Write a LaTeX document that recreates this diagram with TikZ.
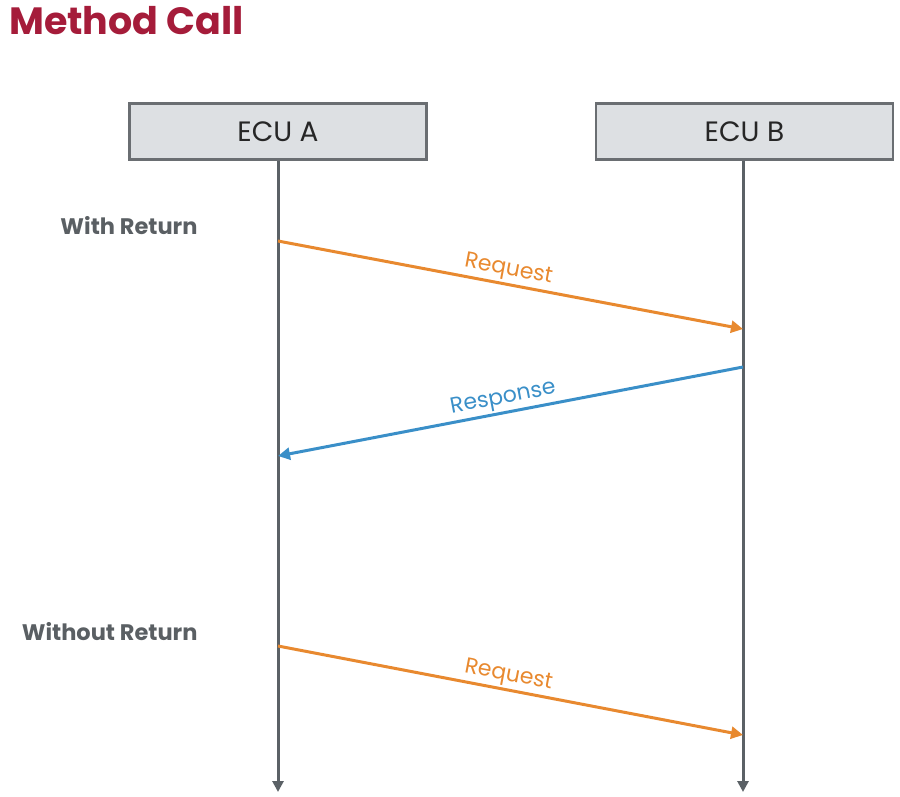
\documentclass[tikz,border=0pt]{standalone}
\usepackage{fontspec}
\setmainfont{Poppins}
\usetikzlibrary{arrows.meta}
\definecolor{titlered}{HTML}{A51C3A}
\definecolor{boxfill}{HTML}{DDE0E3}
\definecolor{boxline}{HTML}{6A6E72}
\definecolor{lifegray}{HTML}{5B6166}
\definecolor{reqorange}{HTML}{E8892F}
\definecolor{resblue}{HTML}{3A8FC8}
\definecolor{labelgray}{HTML}{5A5F63}
\begin{document}
\begin{tikzpicture}[x=1pt,y=-1pt,
  ecubox/.style={draw=boxline, line width=2.5pt, fill=boxfill, minimum width=297pt, minimum height=56pt, inner sep=0pt, font=\fontsize{28}{32}\selectfont, text=black!85},
  lifeline/.style={draw=lifegray, line width=3pt, -{Triangle[length=11pt,width=11pt]}},
  msg/.style={line width=3pt, -{Triangle[length=12pt,width=12pt]}},
  sectionlbl/.style={font=\fontsize{22.5}{26}\selectfont\bfseries, text=labelgray, anchor=east},
  msglbl/.style={font=\fontsize{22}{26}\selectfont, sloped, above, inner sep=2pt}
]
\useasboundingbox (0,0) rectangle (900,797);
\node[anchor=base west, font=\fontsize{38}{42}\selectfont\bfseries, text=titlered, inner sep=0pt] (title) at (9,35) {Method Call};
\node[ecubox] (ecua) at (278,131.5) {ECU A};
\node[ecubox] (ecub) at (744.5,131.5) {ECU B};
\coordinate (aend) at (278,792);
\coordinate (bend) at (743,792);
\draw[lifeline] (ecua.south) -- (aend);
\draw[lifeline] (ecub.south -| bend) -- (bend);
\node[sectionlbl] (wr) at (201,226) {With Return};
\node[sectionlbl] (wor) at (201,632) {Without Return};
\coordinate (r1s) at (ecua.south |- 0,241);
\coordinate (r1e) at (bend |- 0,329);
\coordinate (r2s) at (bend |- 0,367);
\coordinate (r2e) at (ecua.south |- 0,456);
\coordinate (r3s) at (ecua.south |- 0,646);
\coordinate (r3e) at (bend |- 0,735);
\draw[msg, draw=reqorange] (r1s) -- node[msglbl, text=reqorange, pos=0.49] (lq1) {Request} (r1e);
\draw[msg, draw=resblue] (r2s) -- node[msglbl, text=resblue, pos=0.51] (lr) {Response} (r2e);
\draw[msg, draw=reqorange] (r3s) -- node[msglbl, text=reqorange, pos=0.49] (lq2) {Request} (r3e);
\end{tikzpicture}
\end{document}
